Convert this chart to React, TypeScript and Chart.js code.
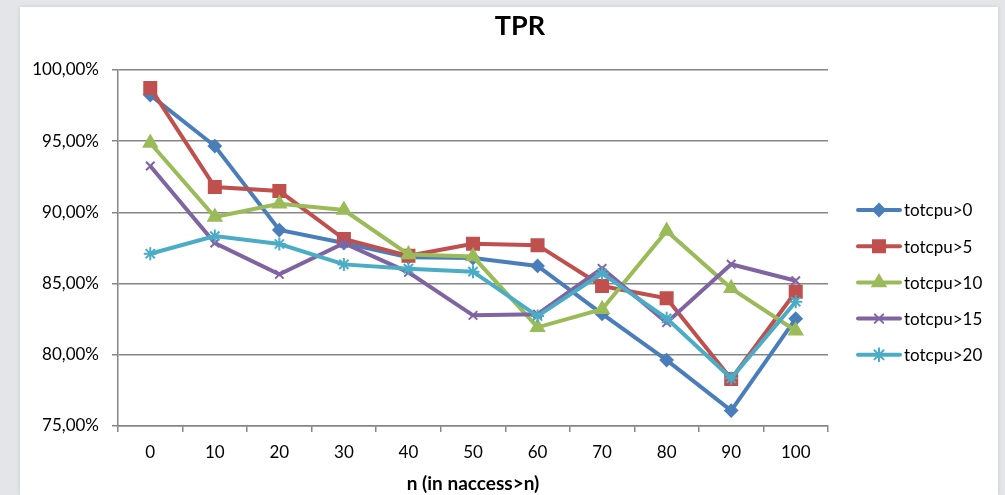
import React, { useEffect, useRef } from "react";
import { Chart, registerables } from "chart.js";
import { drawPoint } from "chart.js/helpers";

Chart.register(...registerables);

const categories = ["0", "10", "20", "30", "40", "50", "60", "70", "80", "90", "100"];
const seriesNames = ["totcpu>0", "totcpu>5", "totcpu>10", "totcpu>15", "totcpu>20"];
const tpr0 = [98.24, 94.66, 88.76, 87.85, 86.85, 86.8, 86.24, 82.87, 79.63, 76.08, 82.54];
const tpr5 = [98.74, 91.78, 91.5, 88.13, 86.95, 87.8, 87.7, 84.83, 83.97, 78.3, 84.43];
const tpr10 = [94.87, 89.68, 90.6, 90.17, 87.05, 86.9, 81.93, 83.2, 88.7, 84.67, 81.69];
const tpr15 = [93.26, 87.85, 85.65, 87.83, 85.79, 82.77, 82.85, 86.07, 82.26, 86.36, 85.2];
const tpr20 = [87.1, 88.34, 87.78, 86.35, 86.05, 85.84, 82.72, 85.72, 82.56, 78.35, 83.73];
const yTicks = [75, 80, 85, 90, 95, 100];
const chartTitle = "TPR";
const xAxisTitle = "n (in naccess>n)";

const colors = ["#4A7EBB", "#C0504D", "#9BBB59", "#8064A2", "#4BACC6"];
const pointStyles = ["rectRot", "rect", "triangle", "crossRot", "star"];
const pointRadii = [6, 8.5, 7.5, 6, 6.5];

const FONT = "Lato, 'Open Sans', sans-serif";

export default function App() {
  const ref = useRef<HTMLCanvasElement | null>(null);

  useEffect(() => {
    const canvas = ref.current;
    if (!canvas) return;
    const allSeries = [tpr0, tpr5, tpr10, tpr15, tpr20];

    const decorPlugin = {
      id: "decor",
      afterDraw(chart: any) {
        const ctx = chart.ctx;
        ctx.save();
        // title, centred over the whole panel
        ctx.fillStyle = "#000";
        ctx.font = `bold 27px ${FONT}`;
        ctx.textAlign = "center";
        ctx.textBaseline = "middle";
        ctx.fillText(chartTitle, chart.width / 2 + 11, 19);
        // legend
        chart.data.datasets.forEach((ds: any, i: number) => {
          const y = 203 + i * 36.2;
          const x0 = 838;
          const x1 = 880;
          ctx.strokeStyle = ds.borderColor;
          ctx.lineWidth = 4;
          ctx.lineCap = "round";
          ctx.beginPath();
          ctx.moveTo(x0, y);
          ctx.lineTo(x1, y);
          ctx.stroke();
          ctx.fillStyle = ds.borderColor;
          ctx.strokeStyle = ds.borderColor;
          ctx.lineWidth = 2;
          drawPoint(ctx, { pointStyle: ds.pointStyle, radius: ds.pointRadius, rotation: 0, borderWidth: 2 } as any, (x0 + x1) / 2, y);
          ctx.fillStyle = "#000";
          ctx.font = `17px ${FONT}`;
          ctx.textBaseline = "middle";
          ctx.textAlign = "left";
          ctx.fillText(ds.label, 884, y + 1);
        });
        ctx.restore();
      },
    };

    const chart = new Chart(canvas, {
      type: "line",
      data: {
        labels: categories,
        datasets: allSeries.map((d, i) => ({
          label: seriesNames[i],
          data: d,
          borderColor: colors[i],
          backgroundColor: colors[i],
          borderWidth: 4,
          pointStyle: pointStyles[i] as any,
          pointRadius: pointRadii[i],
          pointBorderWidth: 2,
          pointBackgroundColor: colors[i],
          pointBorderColor: colors[i],
          tension: 0,
          order: 5 - i,
        })),
      },
      options: {
        responsive: false,
        animation: false,
        devicePixelRatio: 1,
        layout: { padding: { left: 0, right: 170, top: 63, bottom: 0 } },
        plugins: {
          legend: { display: false },
          tooltip: { enabled: false },
          title: { display: false },
        },
        scales: {
          x: {
            type: "category",
            offset: true,
            grid: {
              offset: true,
              drawOnChartArea: false,
              drawTicks: true,
              tickLength: 6,
              color: "#868686",
              lineWidth: 1.5,
            },
            border: { color: "#868686", width: 1.5 },
            ticks: { color: "#000", font: { family: FONT, size: 17 }, padding: 10, maxRotation: 0 },
            title: {
              display: true,
              text: xAxisTitle,
              color: "#000",
              font: { family: FONT, size: 19, weight: "bold" },
              padding: { top: 0, bottom: 0 },
            },
            afterFit: (scale: any) => {
              scale.height = 69;
            },
          },
          y: {
            min: 75,
            max: 100,
            afterBuildTicks: (scale: any) => {
              scale.ticks = yTicks.map((v) => ({ value: v }));
            },
            grid: {
              color: "#868686",
              lineWidth: 1.5,
              tickLength: 6,
            },
            border: { color: "#868686", width: 1.5 },
            ticks: {
              color: "#000",
              font: { family: FONT, size: 17 },
              padding: 13,
              callback: (v: any) => Number(v).toFixed(2).replace(".", ",") + "%",
            },
            afterFit: (scale: any) => {
              scale.width = 98;
            },
          },
        },
      },
      plugins: [decorPlugin],
    });
    return () => chart.destroy();
  }, []);

  return (
    <div style={{ position: "fixed", left: 0, top: 0, width: 1005, height: 495, background: "#E4E5E9", overflow: "hidden" }}>
      <div style={{ position: "absolute", left: 20, top: 7, width: 978, height: 488, background: "#fff", boxShadow: "0 0 4px rgba(0,0,0,0.12)" }}>
        <canvas ref={ref} width={978} height={488} style={{ display: "block", width: 978, height: 488 }} />
      </div>
    </div>
  );
}
